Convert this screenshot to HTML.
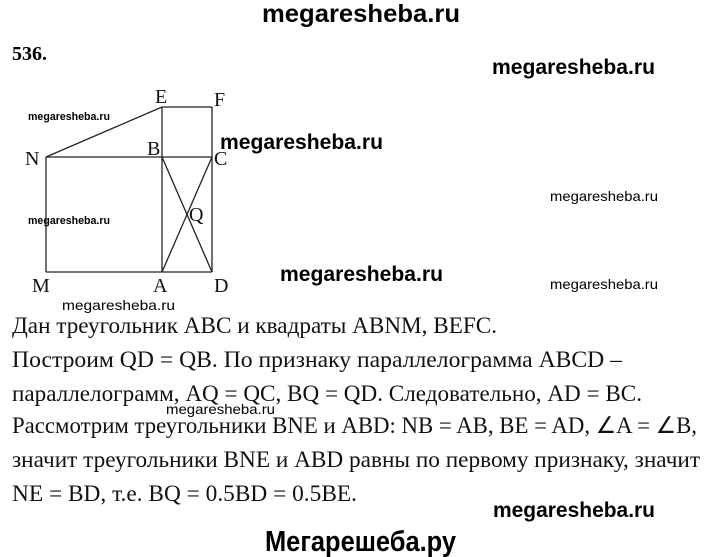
<!DOCTYPE html><html><head><meta charset="utf-8"><style>html,body{margin:0;padding:0;background:#fff}svg{display:block}</style></head><body>
<svg width="720" height="557" viewBox="0 0 720 557" xmlns="http://www.w3.org/2000/svg">
<g font-family="Liberation Sans, sans-serif" font-weight="bold" fill="#000">
<text x="262" y="22" font-size="25" textLength="198" lengthAdjust="spacingAndGlyphs">megaresheba.ru</text>
<text x="492" y="74" font-size="21" textLength="163" lengthAdjust="spacingAndGlyphs">megaresheba.ru</text>
<text x="220" y="149" font-size="21" textLength="163" lengthAdjust="spacingAndGlyphs">megaresheba.ru</text>
<text x="280" y="281" font-size="21" textLength="163" lengthAdjust="spacingAndGlyphs">megaresheba.ru</text>
<text x="493" y="517" font-size="21" textLength="162" lengthAdjust="spacingAndGlyphs">megaresheba.ru</text>
<text x="265" y="551" font-size="29" textLength="191" lengthAdjust="spacingAndGlyphs">Мегарешеба.ру</text>
<text x="28" y="120" font-size="11" textLength="82" lengthAdjust="spacingAndGlyphs">megaresheba.ru</text>
<text x="28" y="224" font-size="11" textLength="82" lengthAdjust="spacingAndGlyphs">megaresheba.ru</text>
</g>
<g font-family="Liberation Sans, sans-serif" fill="#000">
<text x="550" y="201" font-size="14" textLength="108" lengthAdjust="spacingAndGlyphs">megaresheba.ru</text>
<text x="550" y="289" font-size="14" textLength="108" lengthAdjust="spacingAndGlyphs">megaresheba.ru</text>
<text x="62" y="310" font-size="14" textLength="113" lengthAdjust="spacingAndGlyphs">megaresheba.ru</text>
<text x="166" y="414" font-size="14" textLength="109" lengthAdjust="spacingAndGlyphs">megaresheba.ru</text>
</g>
<text x="12" y="60" font-family="Liberation Serif, serif" font-weight="bold" font-size="20">536.</text>
<g stroke="#222" stroke-width="1.3" fill="none">
<line x1="46" y1="157" x2="212" y2="157"/>
<line x1="46" y1="157" x2="46" y2="272"/>
<line x1="46" y1="272" x2="212" y2="272"/>
<line x1="162" y1="107" x2="162" y2="272"/>
<line x1="212" y1="107" x2="212" y2="272"/>
<line x1="162" y1="107" x2="212" y2="107"/>
<line x1="46" y1="157" x2="162" y2="107"/>
<line x1="162" y1="157" x2="212" y2="272"/>
<line x1="212" y1="157" x2="162" y2="272"/>
</g>
<g font-family="Liberation Serif, serif" font-size="20" fill="#111">
<text x="155" y="103">E</text><text x="214" y="106">F</text>
<text x="25" y="165">N</text><text x="147" y="155">B</text><text x="214" y="165">C</text>
<text x="189" y="221">Q</text>
<text x="32" y="292">M</text><text x="153" y="292">A</text><text x="214" y="292">D</text>
</g>
<g font-family="Liberation Serif, serif" font-size="23" fill="#111">
<text x="12" y="333" textLength="485" lengthAdjust="spacingAndGlyphs">Дан треугольник ABC и квадраты ABNM, BEFC.</text>
<text x="12" y="367" textLength="610" lengthAdjust="spacingAndGlyphs">Построим QD = QB. По признаку параллелограмма ABCD –</text>
<text x="12" y="401" textLength="630" lengthAdjust="spacingAndGlyphs">параллелограмм, AQ = QC, BQ = QD. Следовательно, AD = BC.</text>
<text x="12" y="433" textLength="685" lengthAdjust="spacingAndGlyphs">Рассмотрим треугольники BNE и ABD: NB = AB, BE = AD, ∠A = ∠B,</text>
<text x="12" y="467" textLength="688" lengthAdjust="spacingAndGlyphs">значит треугольники BNE и ABD равны по первому признаку, значит</text>
<text x="12" y="501" textLength="345" lengthAdjust="spacingAndGlyphs">NE = BD, т.е. BQ = 0.5BD = 0.5BE.</text>
</g>
</svg>
</body></html>
